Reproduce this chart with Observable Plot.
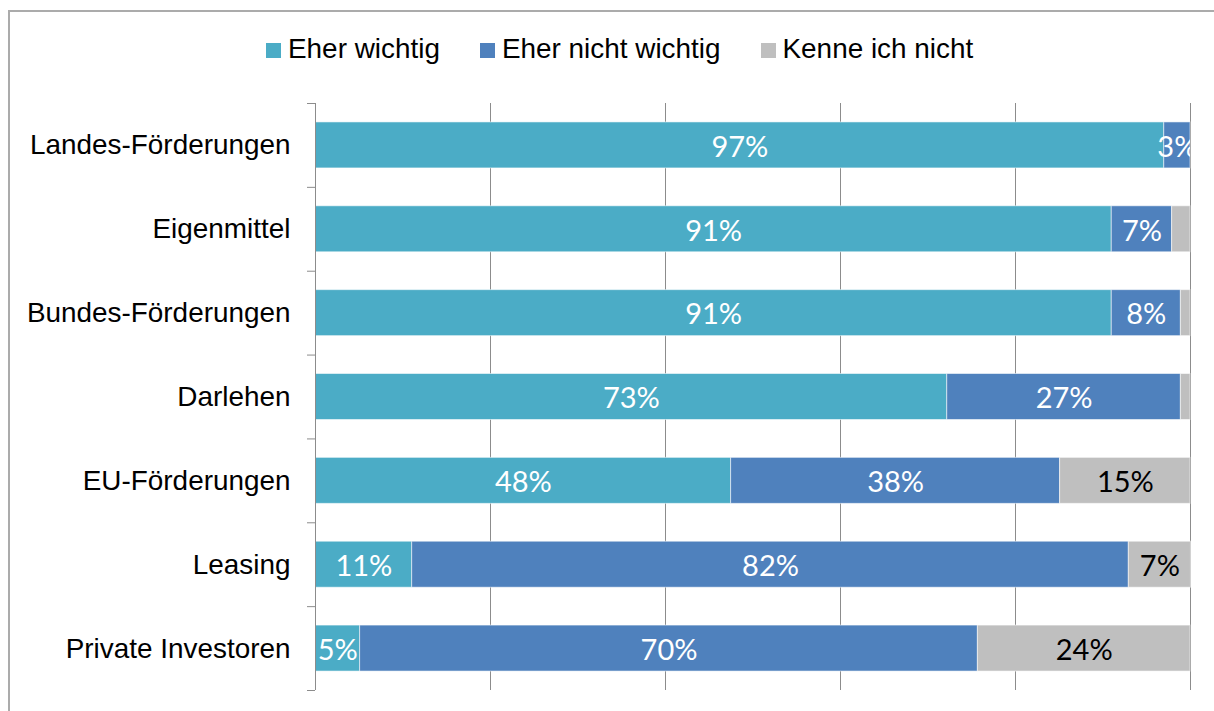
<!DOCTYPE html>
<html>
<head>
<meta charset="utf-8">
<script src="https://cdn.jsdelivr.net/npm/d3@7"></script>
<script src="https://cdn.jsdelivr.net/npm/@observablehq/plot@0.6"></script>
<style>
  html, body { margin: 0; padding: 0; background: #fff; }
  #wrap { position: relative; width: 1214px; height: 711px; overflow: hidden; background: #fff; }
  #frame { position: absolute; left: 8px; top: 10px; width: 1400px; height: 900px;
           border-left: 2px solid #ababab; border-top: 2px solid #ababab; }
  #legend { position: absolute; left: 266px; top: 34.5px; display: flex; gap: 40px;
            font-family: "Liberation Sans", Arial, sans-serif; font-size: 27.9px; line-height: 27.9px; color: #000; }
  #legend .item { display: flex; align-items: flex-start; gap: 7px; white-space: nowrap; }
  #legend .sw { width: 15px; height: 15px; margin-top: 8.7px; flex: none; }
  #chart { position: absolute; left: 0; top: 85px; }
</style>
</head>
<body>
<div id="wrap">
  <div id="frame"></div>
  <div id="legend"></div>
  <div id="chart"></div>
</div>
<script>
// Categories (top to bottom)
const categories = ["Landes-Förderungen", "Eigenmittel", "Bundes-Förderungen", "Darlehen", "EU-Förderungen", "Leasing", "Private Investoren"];
// Series names
const seriesNames = ["Eher wichtig", "Eher nicht wichtig", "Kenne ich nicht"];
const seriesColors = ["#4BACC6", "#4F81BD", "#BFBFBF"];
// Segment values (percent)
const eherWichtig      = [97.0, 91.0, 91.0, 72.2, 47.5, 11.05, 5.1];
const eherNichtWichtig = [3.0, 6.9, 7.9, 26.7, 37.6, 81.9, 70.6];
const kenneIchNicht    = [0.0, 2.1, 1.1, 1.1, 14.9, 7.1, 24.3];
// Data labels as printed on the bars ("" = no label)
const labelsWichtig      = ["97%", "91%", "91%", "73%", "48%", "11%", "5%"];
const labelsNichtWichtig = ["3%", "7%", "8%", "27%", "38%", "82%", "70%"];
const labelsKenne        = ["", "", "", "", "15%", "7%", "24%"];
// x-axis gridline positions (percent)
const gridTicks = [20, 40, 60, 80, 100];

const seriesValues = [eherWichtig, eherNichtWichtig, kenneIchNicht];
const seriesLabels = [labelsWichtig, labelsNichtWichtig, labelsKenne];

const data = [];
categories.forEach((c, i) => {
  seriesNames.forEach((s, j) => {
    data.push({category: c, series: s, value: seriesValues[j][i], label: seriesLabels[j][i]});
  });
});

// Legend
const legend = document.getElementById("legend");
seriesNames.forEach((s, j) => {
  const it = document.createElement("div");
  it.className = "item";
  const sw = document.createElement("div");
  sw.className = "sw";
  sw.style.background = seriesColors[j];
  const tx = document.createElement("span");
  tx.textContent = s;
  it.appendChild(sw); it.appendChild(tx);
  legend.appendChild(it);
});

const width = 1214, height = 626;
const marginLeft = 315, marginRight = 24, marginTop = 18, marginBottom = 21;
const pxPerUnit = (width - marginLeft - marginRight) / 100;
const tickLen = 8 / pxPerUnit;
const step = (height - marginTop - marginBottom) / categories.length;
const pInner = 1 - 46 / step;

const plot = Plot.plot({
  width, height, marginLeft, marginRight, marginTop, marginBottom,
  style: {fontFamily: "'Liberation Sans', Arial, sans-serif", fontSize: "27.9px", color: "#000", background: "transparent"},
  x: {domain: [0, 100], axis: null},
  y: {domain: categories, paddingInner: pInner, paddingOuter: pInner / 2, round: false, label: null},
  color: {domain: seriesNames, range: seriesColors},
  marks: [
    Plot.ruleX(gridTicks, {stroke: "#8c8c8c", strokeWidth: 1}),
    Plot.barX(data, Plot.stackX({x: "value", y: "category", z: "series", fill: "series",
      stroke: "#ffffff", strokeOpacity: 0.55, strokeWidth: 1})),
    Plot.ruleX([0], {stroke: "#8c8c8c", strokeWidth: 1}),
    Plot.ruleY(categories, {y: d => d, x1: -tickLen, x2: 0, dy: -step / 2, stroke: "#8c8c8c", strokeWidth: 1}),
    Plot.ruleY([categories[categories.length - 1]], {y: d => d, x1: -tickLen, x2: 0, dy: step / 2, stroke: "#8c8c8c", strokeWidth: 1}),
    Plot.axisY({tickSize: 0, tickPadding: 25, fontSize: 27.9, fill: "#000", textAnchor: "end"}),
    Plot.text(data, Plot.stackX({x: "value", y: "category", z: "series", text: "label",
      fill: d => d.series === "Kenne ich nicht" ? "#000" : "#fff", clip: "frame",
      fontFamily: "Lato, 'Open Sans', sans-serif", fontSize: 29, dy: 2}))
  ]
});
document.getElementById("chart").appendChild(plot);
</script>
</body>
</html>
